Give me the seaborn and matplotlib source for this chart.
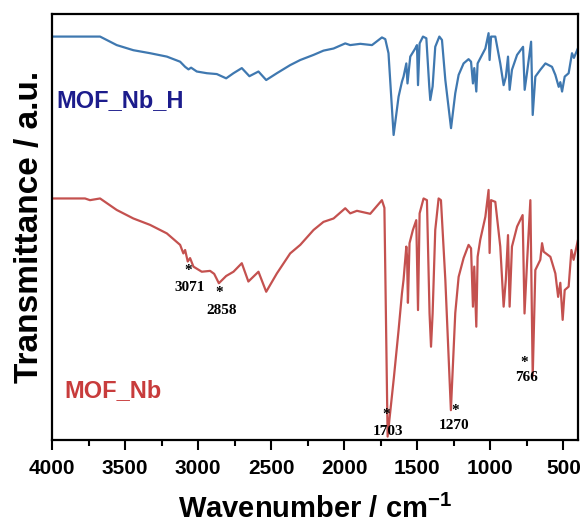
import matplotlib
matplotlib.use("Agg")
import matplotlib.pyplot as plt
from matplotlib.ticker import MultipleLocator
import numpy as np
import pandas as pd
import seaborn as sns

# FTIR spectra (wavenumber in cm-1, transmittance in arbitrary units)
blue_wn = [4000, 3671, 3557, 3443, 3329, 3214, 3123, 3089, 3066, 3048, 3009, 2940, 2872, 2808,
           2758, 2701, 2649, 2587, 2534, 2461, 2370, 2301, 2210, 2142, 2073, 1993, 1959, 1890,
           1810, 1742, 1719, 1697, 1662, 1628, 1605, 1594, 1575, 1567, 1548, 1514, 1502, 1495,
           1484, 1461, 1438, 1418, 1411, 1395, 1377, 1349, 1331, 1308, 1269, 1240, 1217, 1183,
           1149, 1132, 1119, 1110, 1096, 1087, 1069, 1034, 1012, 1005, 995, 966, 932, 909, 894,
           879, 868, 852, 817, 776, 765, 749, 721, 710, 692, 658, 623, 578, 555, 532, 521, 509,
           491, 464, 441, 428, 400]
blue_t = [94.7, 94.7, 92.7, 91.5, 90.8, 90.0, 88.8, 87.6, 87.0, 87.4, 86.5, 86.1, 85.9, 84.9,
          86.1, 87.3, 85.4, 86.5, 84.5, 86.1, 88.0, 89.2, 90.4, 91.4, 91.9, 93.1, 92.7, 93.0,
          92.7, 94.5, 94.1, 90.8, 71.6, 80.6, 84.1, 85.3, 88.4, 83.7, 90.0, 91.9, 92.7, 83.3,
          93.1, 94.7, 94.3, 83.0, 79.8, 83.0, 92.3, 94.7, 93.9, 84.5, 73.2, 81.4, 85.7, 88.4,
          89.4, 88.8, 83.7, 87.3, 81.8, 88.4, 89.6, 91.9, 95.5, 89.2, 94.7, 94.7, 88.4, 83.3, 85.2,
          90.0, 82.2, 86.9, 90.4, 92.3, 82.2, 86.2, 93.5, 76.3, 85.3, 86.9, 88.4, 87.6, 85.7, 82.9,
          84.0, 81.8, 85.3, 86.1, 90.8, 89.7, 92.0]

red_wn = [4000, 3774, 3740, 3671, 3557, 3443, 3329, 3214, 3123, 3101, 3089, 3071, 3055, 3032,
          2975, 2918, 2890, 2858, 2808, 2758, 2701, 2656, 2587, 2534, 2461, 2370, 2301, 2210,
          2142, 2073, 1993, 1959, 1913, 1822, 1742, 1725, 1703, 1660, 1628, 1605, 1594, 1575,
          1570, 1564, 1553, 1530, 1507, 1495, 1484, 1457, 1434, 1416, 1406, 1395, 1377, 1354,
          1338, 1308, 1270, 1240, 1217, 1183, 1149, 1132, 1119, 1110, 1096, 1087, 1069, 1034,
          1012, 1005, 995, 966, 932, 909, 894, 879, 868, 852, 817, 779, 766, 749, 726, 710, 692,
          658, 646, 635, 589, 555, 536, 521, 505, 491, 464, 445, 430, 400]
red_t = [56.7, 56.7, 56.3, 56.7, 54.0, 52.0, 50.5, 48.5, 45.8, 43.8, 44.6, 41.9, 42.7, 40.7,
         39.5, 39.7, 39.0, 36.8, 38.5, 39.5, 41.5, 37.2, 39.5, 34.8, 39.1, 43.8, 45.8, 49.3,
         51.2, 52.0, 54.4, 53.2, 53.8, 53.1, 56.3, 54.5, 0.8, 14.7, 25.8, 34.4, 37.6, 45.4,
         43.0, 32.2, 46.2, 49.3, 51.6, 30.5, 53.2, 56.7, 56.3, 29.7, 21.9, 29.7, 49.3, 56.7,
         56.3, 37.6, 7.0, 29.8, 38.3, 42.7, 45.8, 45.0, 31.3, 40.7, 26.6, 43.0, 47.0, 52.4,
         58.7, 43.9, 56.3, 55.9, 45.4, 31.3, 37.6, 48.1, 31.3, 45.4, 50.1, 52.8, 29.7, 41.5,
         56.3, 14.9, 39.9, 42.3, 46.2, 44.2, 43.0, 39.1, 33.6, 36.9, 28.2, 35.2, 36.0, 44.6,
         42.3, 47.0]

series_names = ["MOF_Nb_H", "MOF_Nb"]
series_colors = {"MOF_Nb_H": "#3f78b0", "MOF_Nb": "#c4514f"}
label_colors = {"MOF_Nb_H": "#1c1c8c", "MOF_Nb": "#c83c3c"}

# Marked band positions of MOF_Nb (cm-1)
peak_labels = [3071, 2858, 1703, 1270, 766]
# where each star / number sits (wavenumber, transmittance)
star_xy = [(3071, 39.9), (2858, 34.7), (1716, 5.9), (1238, 7.0), (766, 18.3)]
text_xy = [(3058, 35.9), (2840, 30.5), (1700, 1.9), (1245, 3.5), (755, 14.6)]

xticks = [4000, 3500, 3000, 2500, 2000, 1500, 1000, 500]

df = pd.concat([
    pd.DataFrame({"wn": blue_wn, "T": blue_t, "sample": series_names[0]}),
    pd.DataFrame({"wn": red_wn, "T": red_t, "sample": series_names[1]}),
], ignore_index=True)

sns.set_style("white")
plt.rcParams["font.family"] = ["Liberation Sans", "DejaVu Sans"]
plt.rcParams["mathtext.fontset"] = "custom"
plt.rcParams["mathtext.rm"] = "Liberation Sans:bold"
plt.rcParams["mathtext.bf"] = "Liberation Sans:bold"
plt.rcParams["text.color"] = "black"
plt.rcParams["axes.labelcolor"] = "black"
plt.rcParams["xtick.color"] = "black"

fig = plt.figure(figsize=(5.85, 5.29), dpi=100)
ax = fig.add_axes([52 / 585, 1 - 440 / 529, (578 - 52) / 585, (440 - 14) / 529])

sns.lineplot(data=df, x="wn", y="T", hue="sample", palette=series_colors,
             estimator=None, sort=False, linewidth=1.6, legend=False, ax=ax)

ax.set_xlim(4000, 400)
ax.set_ylim(0, 100)
ax.set_yticks([])
ax.set_xticks(xticks)
ax.set_xticklabels([str(t) for t in xticks], fontweight="bold")
ax.xaxis.set_minor_locator(MultipleLocator(250))
ax.tick_params(axis="x", which="major", direction="out", length=7, width=1.5,
               labelsize=15, pad=7, bottom=True, top=False, labelcolor="black")
ax.tick_params(axis="x", which="minor", direction="out", length=4, width=1.5,
               bottom=True, top=False)
for sp in ax.spines.values():
    sp.set_linewidth(1.6)
    sp.set_color("black")

ax.set_xlabel("Wavenumber / cm$^{-1}$", fontsize=21, fontweight="bold", labelpad=12)
ax.set_ylabel("Transmittance / a.u.", fontsize=24, fontweight="bold", labelpad=5)

# sample names
ax.text(0.008, 0.798, series_names[0], transform=ax.transAxes, fontsize=17,
        fontweight="bold", color=label_colors[series_names[0]], ha="left", va="center")
ax.text(0.023, 0.115, series_names[1], transform=ax.transAxes, fontsize=17,
        fontweight="bold", color=label_colors[series_names[1]], ha="left", va="center")

# band annotations
for val, (sx, sy), (tx, ty) in zip(peak_labels, star_xy, text_xy):
    ax.text(sx, sy, "*", fontsize=11, fontweight="bold", family="Liberation Serif",
            ha="center", va="center", color="black")
    ax.text(tx, ty, str(val), fontsize=11, fontweight="bold", family="Liberation Serif",
            ha="center", va="center", color="black")

fig.savefig("out.png", dpi=100)
